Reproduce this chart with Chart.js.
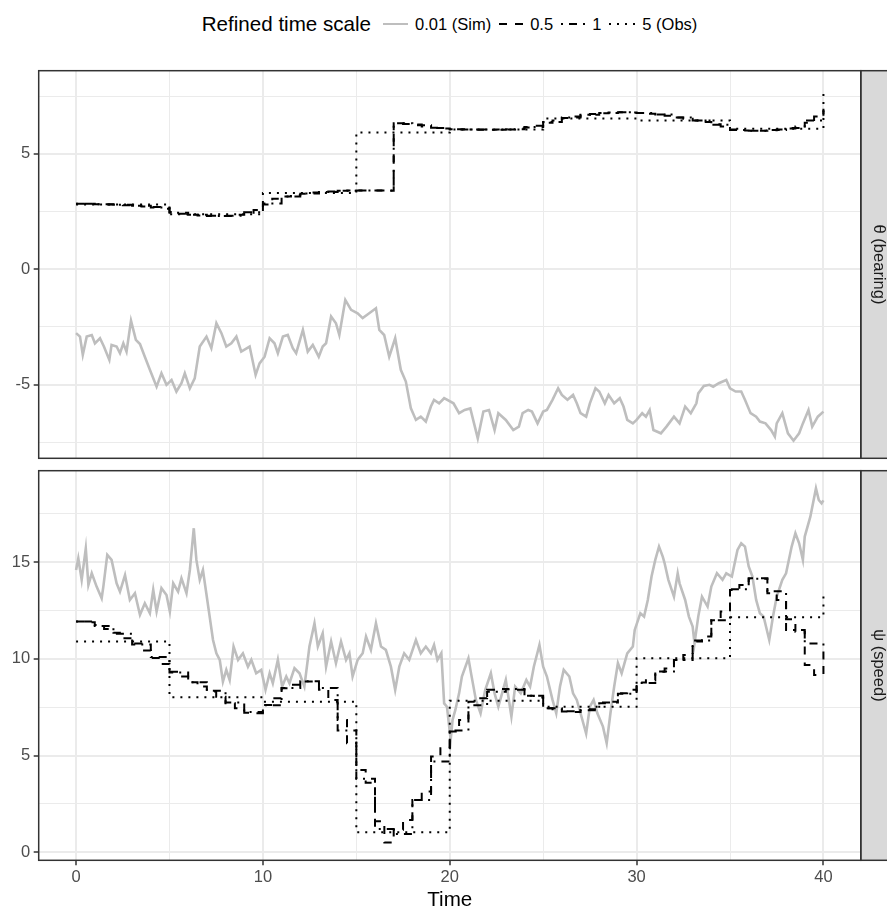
<!DOCTYPE html>
<html>
<head>
<meta charset="utf-8">
<script src="https://cdn.jsdelivr.net/npm/chart.js@4.4.1/dist/chart.umd.min.js"></script>
<style>
  html, body { margin: 0; padding: 0; background: #fff; }
  #wrap { position: relative; width: 887px; height: 906px; overflow: hidden; font-family: "Liberation Sans", Arial, Helvetica, sans-serif; }
  canvas { position: absolute; left: 0; top: 0; }
  #legend { position: absolute; top: 12px; left: 0; width: 899px; display: flex; justify-content: center; align-items: center; font-size: 16.5px; color: #000; white-space: nowrap; }
  #legend .title { font-size: 20.6px; margin-right: 11.5px; }
  #legend svg { margin-right: 7.5px; }
  #legend .lab { margin-right: 7.5px; }
</style>
</head>
<body>
<div id="wrap">
  <div id="legend">
    <span class="title">Refined time scale</span>
    <svg width="25" height="10"><line x1="0" y1="5" x2="25" y2="5" stroke="#BEBEBE" stroke-width="2"/></svg><span class="lab">0.01 (Sim)</span>
    <svg width="24" height="10"><line x1="0" y1="5" x2="24" y2="5" stroke="#000" stroke-width="2" stroke-dasharray="8 8"/></svg><span class="lab">0.5</span>
    <svg width="24" height="10"><line x1="0" y1="5" x2="24" y2="5" stroke="#000" stroke-width="2" stroke-dasharray="2 6 8 6"/></svg><span class="lab">1</span>
    <svg width="26" height="10"><line x1="0" y1="5" x2="26" y2="5" stroke="#000" stroke-width="2" stroke-dasharray="2 6"/></svg><span>5 (Obs)</span>
  </div>
  <canvas id="thetaChart" width="887" height="906"></canvas>
  <canvas id="psiChart" width="887" height="906"></canvas>
</div>
<script>
// axis ticks
const timeTicks = [0, 5, 10, 15, 20, 25, 30, 35, 40];
const timeLabels = [0, 10, 20, 30, 40];
const thetaTicks = [-7.5, -5, -2.5, 0, 2.5, 5, 7.5];
const thetaLabels = [-5, 0, 5];
const psiTicks = [0, 2.5, 5, 7.5, 10, 12.5, 15, 17.5];
const psiLabels = [0, 5, 10, 15];

// theta (bearing), simulated path
const thetaSimT = [0, 0.21, 0.36, 0.57, 0.84, 1.01, 1.28, 1.49, 1.78, 1.9, 2.17, 2.35, 2.53, 2.7, 2.94, 3.2, 3.42, 3.68, 3.95, 4.31,
  4.57, 4.84, 5.11, 5.37, 5.64, 5.82, 6.09, 6.35, 6.62, 6.98, 7.24, 7.51, 7.78, 8.04, 8.31, 8.58, 8.84, 9.29, 9.61, 9.82,
  10.09, 10.36, 10.62, 10.8, 11.07, 11.33, 11.6, 11.78, 12.14, 12.4, 12.67, 12.99, 13.2, 13.38, 13.65, 13.91, 14.09, 14.41, 14.72, 15.07,
  15.34, 15.69, 16.05, 16.23, 16.49, 16.76, 17.08, 17.38, 17.65, 17.92, 18.19, 18.45, 18.72, 18.99, 19.16, 19.43, 19.7, 20.2, 20.5, 20.8,
  21.1, 21.5, 21.8, 22.1, 22.4, 22.6, 23.0, 23.4, 23.7, 23.9, 24.2, 24.4, 24.7, 25.0, 25.2, 25.5, 25.8, 26.0, 26.3, 26.6,
  26.8, 27.0, 27.3, 27.5, 27.8, 28.0, 28.3, 28.5, 28.8, 29.1, 29.3, 29.5, 29.8, 30.0, 30.3, 30.5, 30.7, 30.9, 31.3, 31.6,
  32.0, 32.3, 32.6, 32.9, 33.2, 33.3, 33.6, 33.9, 34.1, 34.4, 34.8, 35.0, 35.3, 35.6, 35.8, 36.1, 36.4, 36.6, 36.9, 37.2,
  37.4, 37.5, 37.8, 38.0, 38.1, 38.4, 38.7, 38.9, 39.2, 39.4, 39.7, 40.0];
const thetaSim = [-2.77, -2.92, -3.71, -2.92, -2.85, -3.21, -2.99, -3.35, -3.93, -3.28, -3.35, -3.64, -3.21, -3.57, -2.23, -3.06, -3.24, -3.79, -4.36, -5.09,
  -4.51, -5.01, -4.8, -5.3, -4.94, -4.51, -5.16, -4.73, -3.35, -2.92, -3.42, -2.34, -2.77, -3.35, -3.21, -2.92, -3.57, -3.35, -4.58, -4.08,
  -3.79, -2.99, -3.21, -3.64, -2.92, -2.85, -3.42, -3.64, -2.63, -3.57, -3.28, -3.79, -3.35, -3.21, -2.05, -2.34, -2.85, -1.33, -1.76, -1.91,
  -2.12, -1.91, -1.69, -2.63, -2.85, -3.79, -2.99, -4.36, -4.87, -6.03, -6.53, -6.39, -6.6, -5.95, -5.66, -5.81, -5.59, -5.81, -6.24, -6.1,
  -6.03, -7.33, -6.17, -6.1, -6.97, -6.24, -6.53, -6.97, -6.82, -6.24, -6.1, -6.17, -6.68, -6.17, -6.1, -5.66, -5.16, -5.45, -5.66, -5.45,
  -5.81, -6.24, -6.39, -5.81, -5.16, -5.3, -5.81, -5.45, -5.81, -5.59, -5.95, -6.53, -6.68, -6.53, -6.24, -6.39, -6.1, -6.97, -7.11, -6.82,
  -6.39, -6.68, -5.95, -6.24, -5.81, -5.38, -5.06, -5.01, -5.09, -4.94, -4.8, -5.16, -5.3, -5.3, -5.66, -6.24, -6.39, -6.6, -6.68, -6.97,
  -7.25, -6.68, -6.24, -6.82, -7.11, -7.43, -7.11, -6.68, -6.1, -6.82, -6.39, -6.17];
// coarser time scales, one value per step (0.5, 1 and 5 time units)
const thetaHalf = [2.84, 2.84, 2.82, 2.80, 2.79, 2.77, 2.75, 2.72, 2.70, 2.62,
  2.48, 2.40, 2.36, 2.33, 2.32, 2.31, 2.31, 2.36, 2.45, 2.57,
  2.80, 3.05, 3.15, 3.22, 3.27, 3.32, 3.35, 3.37, 3.40, 3.41,
  3.41, 3.41, 3.41, 3.40, 6.33, 6.29, 6.27, 6.18, 6.13, 6.10,
  6.07, 6.06, 6.05, 6.04, 6.04, 6.05, 6.06, 6.10, 6.14, 6.22,
  6.35, 6.45, 6.55, 6.62, 6.68, 6.73, 6.76, 6.79, 6.80, 6.79,
  6.77, 6.74, 6.70, 6.65, 6.58, 6.52, 6.45, 6.38, 6.28, 6.18,
  6.05, 6.01, 6.00, 6.00, 6.02, 6.06, 6.10, 6.18, 6.35, 6.62, 6.85];
const thetaOne = [2.84, 2.82, 2.79, 2.75, 2.68, 2.45, 2.36, 2.31, 2.32, 2.47,
  2.85, 3.15, 3.28, 3.35, 3.40, 3.41, 3.41, 6.33, 6.24, 6.12,
  6.07, 6.05, 6.04, 6.07, 6.16, 6.38, 6.57, 6.69, 6.77, 6.80,
  6.77, 6.70, 6.58, 6.44, 6.26, 6.03, 6.00, 6.03, 6.12, 6.45, 6.95];
const thetaFive = [2.81, 2.38, 3.30, 5.92, 6.05, 6.53, 6.45, 6.09, 7.84];

// psi (speed)
const psiSimT = [0, 0.12, 0.3, 0.52, 0.66, 0.84, 1.1, 1.37, 1.46, 1.67, 1.9, 2.17, 2.35, 2.62, 2.88, 3.15, 3.42, 3.68, 3.95, 4.13,
  4.31, 4.57, 4.84, 5.02, 5.2, 5.46, 5.64, 5.91, 6.09, 6.3, 6.44, 6.62, 6.79, 6.97, 7.15, 7.33, 7.51, 7.69, 7.86, 8.04,
  8.22, 8.43, 8.67, 8.93, 9.2, 9.38, 9.64, 9.91, 10.14, 10.36, 10.53, 10.8, 11.03, 11.25, 11.42, 11.69, 11.96, 12.22, 12.49, 12.76,
  12.94, 13.2, 13.38, 13.65, 13.91, 14.18, 14.45, 14.63, 14.8, 15.07, 15.34, 15.52, 15.78, 16.05, 16.32, 16.58, 16.85, 17.08, 17.3, 17.56,
  17.83, 18.19, 18.45, 18.72, 18.99, 19.16, 19.34, 19.55, 19.7, 19.85, 20.05, 20.15, 20.3, 20.5, 20.65, 21.0, 21.15, 21.4, 21.65, 21.9,
  22.2, 22.4, 22.6, 22.8, 23.0, 23.3, 23.5, 23.8, 24.1, 24.3, 24.5, 24.8, 25.0, 25.2, 25.5, 25.7, 25.9, 26.1, 26.4, 26.6,
  26.8, 27.1, 27.3, 27.5, 27.7, 27.9, 28.2, 28.4, 28.6, 28.8, 29.0, 29.2, 29.5, 29.8, 29.9, 30.2, 30.4, 30.6, 30.8, 31.0,
  31.2, 31.4, 31.5, 31.7, 32.0, 32.2, 32.3, 32.6, 32.8, 33.0, 33.1, 33.3, 33.5, 33.8, 34.0, 34.3, 34.6, 34.8, 35.1, 35.4,
  35.6, 35.8, 36.0, 36.2, 36.4, 36.6, 36.8, 37.1, 37.3, 37.5, 37.8, 38.0, 38.3, 38.5, 38.7, 38.9, 39.0, 39.3, 39.6, 39.75,
  39.9, 40.0];
const psiSim = [14.6, 15.2, 14.09, 15.72, 13.83, 14.43, 13.74, 13.14, 13.74, 15.38, 15.12, 13.91, 13.48, 14.34, 13.05, 13.4, 12.28, 12.88, 12.36, 13.57,
  12.45, 13.66, 13.31, 12.45, 13.91, 13.48, 14.17, 13.4, 14.6, 16.76, 15.12, 14.09, 14.6, 13.4, 12.19, 10.98, 10.29, 9.95, 8.83, 9.43,
  8.91, 10.64, 9.95, 10.29, 9.6, 9.95, 9.26, 9.43, 8.4, 9.26, 8.74, 9.95, 8.57, 9.09, 8.74, 9.52, 9.26, 8.57, 10.64, 11.84,
  10.64, 11.33, 9.6, 10.9, 9.78, 10.9, 9.95, 10.29, 9.09, 9.95, 10.29, 11.16, 10.47, 11.84, 10.64, 10.47, 9.6, 8.4, 9.6, 10.29,
  9.95, 10.98, 10.29, 10.64, 10.29, 10.72, 9.95, 10.3, 7.7, 7.53, 5.81, 6.84, 7.36, 8.22, 9.09, 10.03, 9.2, 7.88, 7.19, 8.4,
  9.26, 8.22, 7.53, 8.22, 8.91, 7.02, 8.57, 8.22, 8.91, 8.57, 9.6, 10.72, 9.6, 9.09, 7.88, 7.19, 8.57, 9.43, 9.09, 8.22,
  7.88, 6.84, 6.14, 7.53, 7.88, 7.19, 6.5, 5.64, 7.19, 8.57, 9.78, 9.26, 10.29, 10.64, 11.5, 12.36, 12.19, 13.05, 14.26, 15.12,
  15.81, 15.29, 14.95, 14.09, 13.22, 14.43, 13.91, 13.05, 12.19, 11.67, 10.81, 12.19, 13.22, 12.71, 13.74, 14.43, 14.09, 14.43, 14.26, 15.64,
  15.98, 15.81, 14.78, 14.26, 13.05, 12.36, 12.19, 10.98, 12.19, 13.22, 14.09, 14.43, 15.81, 16.5, 15.98, 15.12, 16.33, 17.36, 18.82, 18.22,
  18.05, 18.2];
const psiHalf = [11.93, 11.90, 11.75, 11.55, 11.35, 11.07, 10.80, 10.43, 10.05, 9.74,
  9.34, 9.09, 8.80, 8.57, 8.31, 8.05, 7.71, 7.45, 7.22, 7.19,
  7.62, 7.97, 8.48, 8.66, 8.83, 8.83, 8.40, 7.88, 6.84, 5.64,
  4.26, 3.60, 1.60, 0.50, 1.16, 1.67, 2.70, 3.14, 4.95, 5.38,
  6.24, 6.84, 7.79, 7.97, 8.40, 8.45, 8.43, 8.40, 8.09, 8.00,
  7.45, 7.40, 7.28, 7.25, 7.36, 7.40, 7.71, 7.79, 8.22, 8.40,
  8.78, 8.90, 9.34, 9.50, 9.95, 10.20, 10.90, 11.16, 12.00, 12.45,
  13.57, 13.83, 14.17, 14.17, 13.40, 13.05, 12.05, 11.41, 9.69, 9.17, 9.78];
const psiOne = [11.93, 11.70, 11.30, 10.75, 10.10, 9.30, 8.80, 8.35, 7.75, 7.25,
  7.60, 8.50, 8.85, 8.50, 6.30, 3.80, 1.20, 0.95, 2.70, 4.70,
  6.30, 7.60, 8.30, 8.45, 8.10, 7.45, 7.30, 7.35, 7.75, 8.20,
  8.75, 9.35, 9.95, 10.95, 12.00, 13.60, 14.15, 13.50, 11.50, 10.80, 9.78];
const psiFive = [10.90, 8.02, 7.79, 1.03, 7.84, 7.53, 10.03, 12.16, 13.48];

const fontFamily = '"Liberation Sans", Arial, Helvetica, sans-serif';

function expandRange(lists) {
  const all = lists.flat();
  const lo = Math.min(...all);
  const hi = Math.max(...all);
  const pad = (hi - lo) * 0.05;
  return [lo - pad, hi + pad];
}

function pairs(ts, vs) {
  return ts.map((t, i) => ({ x: t, y: vs[i] }));
}

function steps(vs, dt) {
  return vs.map((v, i) => ({ x: i * dt, y: v }));
}

// panel frame + facet strip on the right
const panelFrame = {
  id: "panelFrame",
  afterDatasetsDraw(chart, args, opts) {
    const { ctx, chartArea: a } = chart;
    ctx.save();
    ctx.fillStyle = "#D9D9D9";
    ctx.fillRect(a.right, a.top, 40, a.bottom - a.top);
    ctx.strokeStyle = "#333333";
    ctx.lineWidth = 1.5;
    ctx.strokeRect(a.right, a.top, 40, a.bottom - a.top);
    ctx.strokeRect(a.left, a.top, a.right - a.left, a.bottom - a.top);
    ctx.fillStyle = "#1A1A1A";
    ctx.font = "16.5px " + fontFamily;
    ctx.translate(a.right + 17.5, (a.top + a.bottom) / 2);
    ctx.rotate(Math.PI / 2);
    ctx.textAlign = "center";
    ctx.textBaseline = "middle";
    ctx.fillText(opts.label, 0, 0);
    ctx.restore();
  },
};

function makePanel(canvasId, cfg) {
  const xMajor = (v) => v % 10 === 0;
  const yMajor = (v) => v % 5 === 0;
  const [ymin, ymax] = expandRange([cfg.sim, cfg.half, cfg.one, cfg.five]);

  return new Chart(document.getElementById(canvasId), {
    type: "line",
    data: {
      datasets: [
        { data: steps(cfg.five, 5), borderColor: "#000", borderWidth: 2, borderDash: [2, 6], stepped: "before", order: 1 },
        { data: steps(cfg.one, 1), borderColor: "#000", borderWidth: 2, borderDash: [2, 6, 8, 6], stepped: "before", order: 2 },
        { data: steps(cfg.half, 0.5), borderColor: "#000", borderWidth: 2, borderDash: [8, 8], stepped: "before", order: 3 },
        { data: pairs(cfg.simT, cfg.sim), borderColor: "#BEBEBE", borderWidth: 2.6, order: 4 },
      ],
    },
    options: {
      responsive: false,
      animation: false,
      devicePixelRatio: 1,
      events: [],
      layout: { padding: cfg.padding },
      elements: { point: { radius: 0 }, line: { tension: 0, borderCapStyle: "butt", borderJoinStyle: "miter" } },
      plugins: { legend: { display: false }, tooltip: { enabled: false }, panelFrame: { label: cfg.strip } },
      scales: {
        x: {
          type: "linear",
          min: -2,
          max: 42,
          border: { display: false },
          afterBuildTicks: (axis) => { axis.ticks = timeTicks.map((v) => ({ value: v })); },
          afterFit: (axis) => { axis.height = cfg.xHeight; },
          grid: {
            color: "#EBEBEB",
            lineWidth: (c) => (xMajor(c.tick.value) ? 2 : 1),
            drawTicks: cfg.showX,
            tickLength: 5,
            tickWidth: 1.5,
            tickColor: (c) => (xMajor(c.tick.value) ? "#333333" : "rgba(0,0,0,0)"),
          },
          ticks: {
            display: cfg.showX,
            autoSkip: false,
            maxRotation: 0,
            padding: 2,
            color: "#4D4D4D",
            font: { family: fontFamily, size: 16.5 },
            callback: (v) => (timeLabels.includes(v) ? String(v) : ""),
          },
          title: {
            display: cfg.showX,
            text: "Time",
            color: "#000",
            font: { family: fontFamily, size: 20.6, lineHeight: 0.55 },
            padding: { top: 0, bottom: 0 },
          },
        },
        y: {
          type: "linear",
          min: ymin,
          max: ymax,
          border: { display: false },
          afterBuildTicks: (axis) => { axis.ticks = cfg.ticks.map((v) => ({ value: v })); },
          afterFit: (axis) => { axis.width = 38.7; },
          grid: {
            color: "#EBEBEB",
            lineWidth: (c) => (yMajor(c.tick.value) ? 2 : 1),
            tickLength: 5,
            tickWidth: 1.5,
            tickColor: (c) => (yMajor(c.tick.value) ? "#333333" : "rgba(0,0,0,0)"),
          },
          ticks: {
            padding: 3.5,
            color: "#4D4D4D",
            font: { family: fontFamily, size: 16.5 },
            callback: (v) => (cfg.labels.includes(v) ? String(v) : ""),
          },
        },
      },
    },
    plugins: [panelFrame],
  });
}

makePanel("thetaChart", {
  simT: thetaSimT, sim: thetaSim, half: thetaHalf, one: thetaOne, five: thetaFive,
  ticks: thetaTicks, labels: thetaLabels, strip: "θ (bearing)",
  padding: { left: 0, top: 70.7, right: 26.2, bottom: 447.7 },
  showX: false, xHeight: 0,
});

makePanel("psiChart", {
  simT: psiSimT, sim: psiSim, half: psiHalf, one: psiOne, five: psiFive,
  ticks: psiTicks, labels: psiLabels, strip: "ψ (speed)",
  padding: { left: 0, top: 470.7, right: 26.2, bottom: 0 },
  showX: true, xHeight: 45.7,
});
</script>
</body>
</html>
